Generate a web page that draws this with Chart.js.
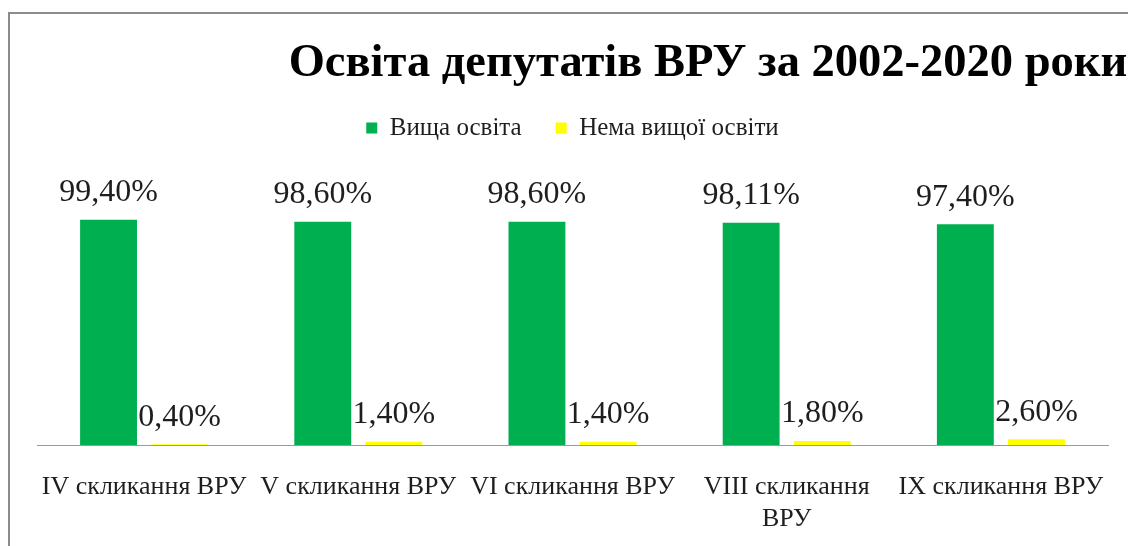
<!DOCTYPE html>
<html>
<head>
<meta charset="utf-8">
<script src="https://cdn.jsdelivr.net/npm/chart.js@4"></script>
<style>
    html, body { margin: 0; padding: 0; background: #fff; overflow: hidden; }
    #frame {
        position: absolute;
        left: 8px;
        top: 12px;
        border-left: 2px solid #8c8c8c;
        border-top: 2px solid #8c8c8c;
    }
    #wrap { position: relative; width: 1369px; height: 553px; }
</style>
</head>
<body>
<div id="frame">
    <div id="wrap"><canvas id="chart"></canvas></div>
</div>
<script>
// Chart data
const categories = [
    'IV скликання ВРУ',
    'V скликання ВРУ',
    'VI скликання ВРУ',
    ['VIII скликання', 'ВРУ'],
    'IX скликання ВРУ'
];
const higherEdu = [99.40, 98.60, 98.60, 98.11, 97.40];
const noHigherEdu = [0.40, 1.40, 1.40, 1.80, 2.60];
const seriesNames = ['Вища освіта', 'Нема вищої освіти'];

const serif = "'Liberation Serif', 'Times New Roman', serif";

// Draw percent labels above every bar
const barLabels = {
    id: 'barLabels',
    afterDatasetsDraw(chart) {
        const ctx = chart.ctx;
        ctx.save();
        ctx.font = '32px ' + serif;
        ctx.fillStyle = '#1e1e1e';
        ctx.textAlign = 'center';
        ctx.textBaseline = 'middle';
        chart.data.datasets.forEach((ds, i) => {
            chart.getDatasetMeta(i).data.forEach((bar, j) => {
                const txt = ds.data[j].toFixed(2).replace('.', ',') + '%';
                ctx.fillText(txt, bar.x, bar.y - 27);
            });
        });
        ctx.restore();
    }
};

const ctx = document.getElementById('chart').getContext('2d');
new Chart(ctx, {
    type: 'bar',
    data: {
        labels: categories,
        datasets: [{
            label: seriesNames[0],
            data: higherEdu,
            backgroundColor: '#00b050'
        }, {
            label: seriesNames[1],
            data: noHigherEdu,
            backgroundColor: '#ffff00'
        }]
    },
    options: {
        responsive: true,
        maintainAspectRatio: false,
        animation: false,
        categoryPercentage: 0.664,
        barPercentage: 0.8,
        layout: {
            padding: { left: 27, right: 0, top: 0, bottom: 14 }
        },
        plugins: {
            title: {
                display: true,
                text: 'Освіта депутатів ВРУ за 2002-2020 роки',
                color: '#000',
                font: { family: serif, size: 46.5, weight: 'bold', lineHeight: 1 },
                padding: { top: 27, bottom: -6 }
            },
            legend: {
                position: 'top',
                fullSize: false,
                labels: {
                    color: '#1e1e1e',
                    boxWidth: 11,
                    boxHeight: 11,
                    padding: 34,
                    font: { family: serif, size: 25 }
                }
            },
            tooltip: { enabled: false }
        },
        scales: {
            x: {
                grid: { display: false },
                border: { display: true, color: '#9a9a9a', width: 1 },
                ticks: {
                    color: '#1e1e1e',
                    padding: 18,
                    maxRotation: 0,
                    autoSkip: false,
                    font: { family: serif, size: 26, lineHeight: 1.23 }
                }
            },
            y: {
                position: 'right',
                min: 0,
                max: 130,
                grid: { display: false },
                border: { display: false },
                ticks: { display: false },
                // keeps the plot narrower than the canvas so the title sits right of centre
                afterFit(scale) {
                    scale.width = 271;
                }
            }
        }
    },
    plugins: [barLabels]
});
</script>
</body>
</html>
